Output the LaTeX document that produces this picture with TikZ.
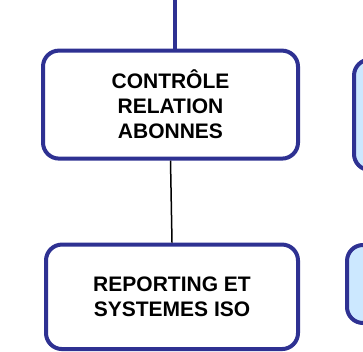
\documentclass[tikz,border=0pt]{standalone}
\usepackage{fontspec}
\setmainfont{Liberation Sans}
\usetikzlibrary{positioning, calc}
\definecolor{dblue}{RGB}{46,49,146}
\definecolor{lblue}{RGB}{204,232,255}
\tikzstyle{Box} = [
draw=dblue,
line width=4pt,
rounded corners=16pt,
fill=white,
align=center,
font=\fontsize{21}{25}\selectfont\bfseries]
\tikzstyle{BoxBlue} = [
Box,
fill=lblue]
\tikzstyle{LinkBlue} = [
dblue,
line width=4pt]
\tikzstyle{Link} = [
black,
line width=1.5pt]

\begin{document}
\begin{tikzpicture}[x=1pt, y=1pt]
    \useasboundingbox (0,0) rectangle (363,-352);
    \clip (0,0) rectangle (363,-352);

    \coordinate (0) at (174.7,0);
    \node [Box, minimum width=255pt, minimum height=108pt] (1) at (170.5,-104.6) {CONTRÔLE\\RELATION\\ABONNES};
    \node [Box, minimum width=252pt, minimum height=104.5pt] (2) at (172,-296.8) {REPORTING ET\\SYSTEMES ISO};
    \node [BoxBlue, minimum width=120pt, minimum height=110.5pt] (3) at (414,-114.8) {};
    \node [BoxBlue, minimum width=120pt, minimum height=78pt] (4) at (407,-284) {};

    \draw[LinkBlue] (0) -- (0 |- 1.north);
    \draw[Link] (1.south) -- (2.north);
\end{tikzpicture}
\end{document}
